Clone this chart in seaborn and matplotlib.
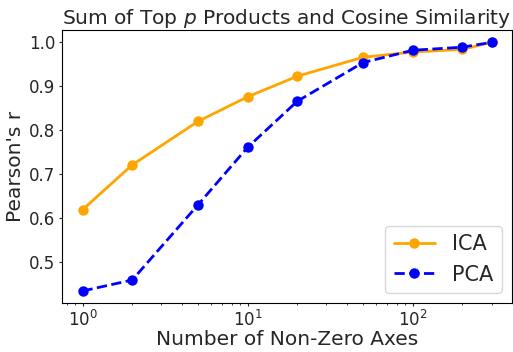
import numpy as np
import pandas as pd
import matplotlib
matplotlib.use("Agg")
import matplotlib.pyplot as plt
import seaborn as sns

n_axes = [1, 2, 5, 10, 20, 50, 100, 200, 300]
ica_r = [0.619, 0.721, 0.820, 0.876, 0.923, 0.966, 0.978, 0.984, 1.0]
pca_r = [0.434, 0.459, 0.630, 0.761, 0.866, 0.954, 0.982, 0.989, 1.0]

sns.set_style("ticks")
plt.rcParams["font.family"] = ["DejaVu Sans"]

fig, ax = plt.subplots(figsize=(5.13, 3.52), dpi=100)
sns.lineplot(x=n_axes, y=ica_r, color="orange", marker="o", markersize=7.5,
             markeredgewidth=0, linewidth=2, label="ICA", ax=ax)
sns.lineplot(x=n_axes, y=pca_r, color="blue", marker="o", markersize=7.5,
             markeredgewidth=0, linewidth=2, linestyle="--", label="PCA", ax=ax)
ax.set_xscale("log")
ax.set_title("Sum of Top $p$ Products and Cosine Similarity", fontsize=14.5, pad=4)
ax.set_xlabel("Number of Non-Zero Axes", fontsize=14.5, labelpad=0)
ax.set_ylabel("Pearson's r", fontsize=14.5, labelpad=3)
ax.tick_params(which="major", labelsize=12, length=2.5, pad=2.5)
ax.tick_params(which="minor", length=1.5)
ax.legend(fontsize=15, loc="lower right")
for s in ax.spines.values():
    s.set_visible(True)
    s.set_color("black")

fig.subplots_adjust(left=0.121, right=0.998, top=0.915, bottom=0.138)
fig.savefig("out.png", dpi=100)
